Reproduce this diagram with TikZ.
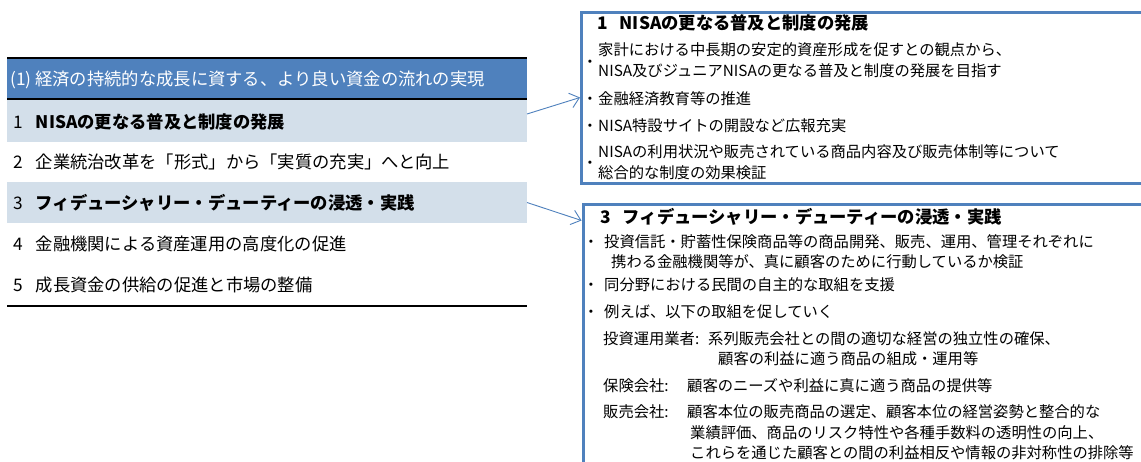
\documentclass[tikz,border=0pt]{standalone}
\usepackage{fontspec}
\setmainfont{Noto Sans CJK JP}
\usetikzlibrary{arrows.meta}
\definecolor{hdrblue}{RGB}{79,129,189}
\definecolor{bandblue}{RGB}{211,223,234}
\definecolor{boxblue}{RGB}{79,129,189}
\begin{document}
\begin{tikzpicture}[x=1pt,y=-1pt,
  band/.style={rectangle, inner sep=0pt, outer sep=0pt, minimum width=520pt, anchor=north west},
  bigtxt/.style={anchor=base west, inner sep=0pt, font=\fontsize{17.3}{20}\selectfont},
  smalltxt/.style={anchor=base west, inner sep=0pt, font=\fontsize{15.3}{18}\selectfont},
  bul/.style={anchor=base, inner sep=0pt, font=\fontsize{15.3}{18}\selectfont},
  rule/.style={line width=2pt, black},
  infobox/.style={rectangle, draw=boxblue, line width=3pt, anchor=north west, inner sep=0pt},
  arr/.style={draw=boxblue, line width=0.9pt, -{Straight Barb[length=9pt,width=15pt]}}
]
\useasboundingbox (0,0) rectangle (1141,462);
\clip (0,0) rectangle (1141,462);
\fill[white] (0,0) rectangle (1141,462);

% left column
\node[band, fill=hdrblue, minimum height=41pt] (hdr) at (7,58) {};
\node[band, fill=bandblue, minimum height=42pt] (row1band) at (7,100) {};
\node[band, fill=bandblue, minimum height=41pt] (row3band) at (7,182) {};
\coordinate (botL) at (7,306);
\coordinate (botR) at (527,306);
\draw[rule] (hdr.north west) -- (hdr.north east);
\draw[rule] (hdr.south west) -- (hdr.south east);
\draw[rule] (botL) -- (botR);

\node[bigtxt, text=white] (hdrtxt) at (10,85.6) {(1) 経済の持続的な成長に資する、より良い資金の流れの実現};
\node[bigtxt] (r1) at (13,128.6) {1\hspace{13pt}\textbf{NISAの更なる普及と制度の発展}};
\node[bigtxt] (r2) at (13,168.6) {2\hspace{13pt}企業統治改革を「形式」から「実質の充実」へと向上};
\node[bigtxt] (r3) at (13,209.6) {3\hspace{13pt}\textbf{フィデューシャリー・デューティーの浸透・実践}};
\node[bigtxt] (r4) at (13,250.6) {4\hspace{13pt}金融機関による資産運用の高度化の促進};
\node[bigtxt] (r5) at (13,291.6) {5\hspace{13pt}成長資金の供給の促進と市場の整備};

% right box 1
\node[infobox, minimum width=640pt, minimum height=171pt] (box1) at (580,11.5) {};
\node[bigtxt] (b1t) at (597,29.6) {\textbf{1\hspace{12pt}NISAの更なる普及と制度の発展}};
\node[bul] (b1a) at (590,67.8) {・};
\node[smalltxt] (b1a1) at (598,55.8) {家計における中長期の安定的資産形成を促すとの観点から、};
\node[smalltxt] (b1a2) at (598,76.8) {NISA及びジュニアNISAの更なる普及と制度の発展を目指す};
\node[bul] (b1b) at (590,104.8) {・};
\node[smalltxt] (b1b1) at (598,104.8) {金融経済教育等の推進};
\node[bul] (b1c) at (590,131.8) {・};
\node[smalltxt] (b1c1) at (598,131.8) {NISA特設サイトの開設など広報充実};
\node[bul] (b1d) at (590,168.8) {・};
\node[smalltxt] (b1d1) at (598,157.8) {NISAの利用状況や販売されている商品内容及び販売体制等について};
\node[smalltxt] (b1d2) at (598,178.8) {総合的な制度の効果検証};

% right box 3
\node[infobox, minimum width=640pt, minimum height=300pt] (box3) at (581.5,203.5) {};
\node[bigtxt] (b3t) at (600,223.6) {\textbf{3\hspace{12pt}フィデューシャリー・デューティーの浸透・実践}};
\node[bul] (b3a) at (591,247.8) {・};
\node[smalltxt] (b3a1) at (604,247.8) {投資信託・貯蓄性保険商品等の商品開発、販売、運用、管理それぞれに};
\node[smalltxt] (b3a2) at (611,267.8) {携わる金融機関等が、真に顧客のために行動しているか検証};
\node[bul] (b3b) at (591,290.8) {・};
\node[smalltxt] (b3b1) at (604,290.8) {同分野における民間の自主的な取組を支援};
\node[bul] (b3c) at (591,317.8) {・};
\node[smalltxt] (b3c1) at (604,317.8) {例えば、以下の取組を促していく};
\node[smalltxt] (l1) at (603,344.8) {投資運用業者:};
\node[smalltxt] (l1a) at (708,344.8) {系列販売会社との間の適切な経営の独立性の確保、};
\node[smalltxt] (l1b) at (718,364.8) {顧客の利益に適う商品の組成・運用等};
\node[smalltxt] (l2) at (603,391.8) {保険会社:};
\node[smalltxt] (l2a) at (687,391.8) {顧客のニーズや利益に真に適う商品の提供等};
\node[smalltxt] (l3) at (603,417.8) {販売会社:};
\node[smalltxt] (l3a) at (687,417.8) {顧客本位の販売商品の選定、顧客本位の経営姿勢と整合的な};
\node[smalltxt] (l3b) at (690,438.8) {業績評価、商品のリスク特性や各種手数料の透明性の向上、};
\node[smalltxt] (l3c) at (690,458.8) {これらを通じた顧客との間の利益相反や情報の非対称性の排除等};

% connectors
\draw[arr] ([yshift=7pt]row1band.east) -- ([yshift=1pt]box1.west);
\draw[arr] (row3band.east) -- ([yshift=-17pt]box3.north west);
\end{tikzpicture}
\end{document}
